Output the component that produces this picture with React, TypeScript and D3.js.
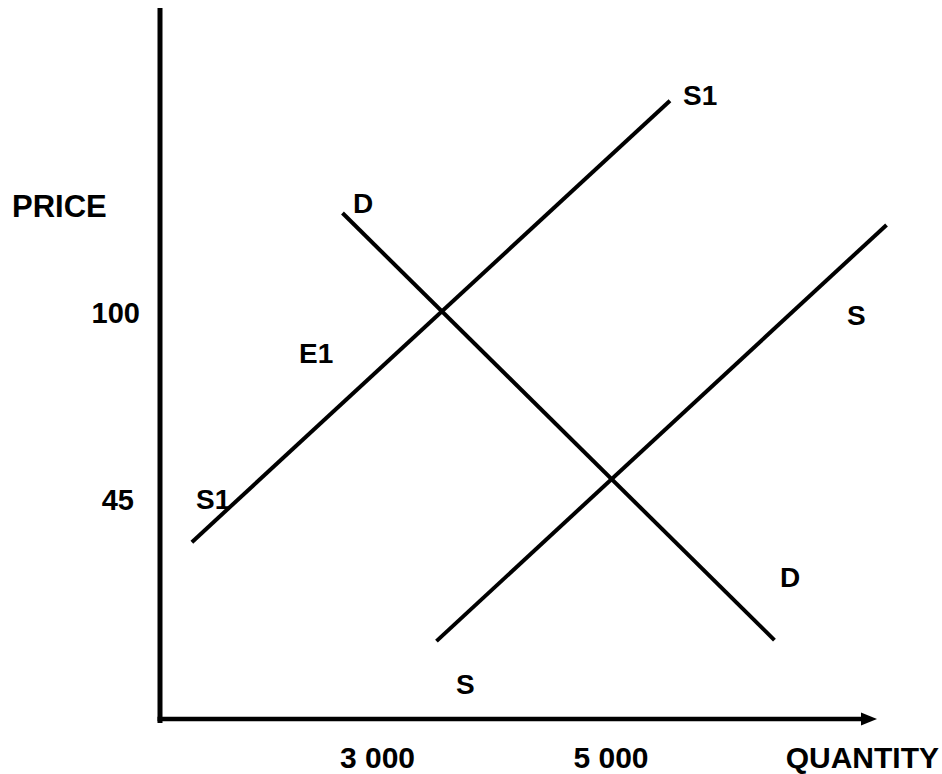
import React from "react";
import * as d3 from "d3";

// Curves in data units: [quantity, price]
const supplyS1: [number, number][] = [
  [1410, 32.6],
  [5505, 162.4],
];
const demandD: [number, number][] = [
  [2700, 129.4],
  [6400, 3.8],
];
const supplyS: [number, number][] = [
  [3505, 3.5],
  [7360, 125.9],
];

const xTicks = [3000, 5000];
const xTickLabels = ["3 000", "5 000"];
const yTicks = [100, 45];
const yTickLabels = ["100", "45"];

// Curve labels placed in data units
const curveLabels: { text: string; q: number; p: number }[] = [
  { text: "S1", q: 5617, p: 161.2 },
  { text: "D", q: 2790, p: 129.4 },
  { text: "S", q: 7021, p: 96.5 },
  { text: "E1", q: 2328, p: 85.3 },
  { text: "S1", q: 1445, p: 42.4 },
  { text: "D", q: 6448, p: 19.4 },
  { text: "S", q: 3672, p: -12.1 },
];

const W = 942;
const H = 774;
const FONT = "'Liberation Sans', Arial, Helvetica, sans-serif";

export default function App() {
  const x = d3.scaleLinear().domain([3000, 5000]).range([377.5, 611]);
  const y = d3.scaleLinear().domain([45, 100]).range([500, 313]);

  const line = d3
    .line<[number, number]>()
    .x((d) => x(d[0]))
    .y((d) => y(d[1]));

  const axisX = 160;
  const axisY = 719;
  const axisTop = 8;
  const arrowTip = 877;

  return (
    <svg
      width={W}
      height={H}
      style={{ position: "absolute", left: 0, top: 0, display: "block", background: "#fff" }}
    >
      <rect x={0} y={0} width={W} height={H} fill="#fff" />
      {/* axes */}
      <line x1={axisX} y1={axisTop} x2={axisX} y2={axisY + 4} stroke="#000" strokeWidth={5} />
      <line x1={axisX - 2.5} y1={axisY} x2={arrowTip - 14} y2={axisY} stroke="#000" strokeWidth={4.5} />
      <path
        d={`M${arrowTip - 16},${axisY - 6.5} L${arrowTip},${axisY} L${arrowTip - 16},${axisY + 6.5} Z`}
        fill="#000"
      />

      {/* curves */}
      {[supplyS1, demandD, supplyS].map((d, i) => (
        <path key={i} d={line(d) || ""} fill="none" stroke="#000" strokeWidth={4} strokeLinecap="butt" />
      ))}

      {/* axis titles */}
      <text x={12} y={217} fontFamily={FONT} fontWeight="bold" fontSize={31} fill="#000">
        PRICE
      </text>
      <text x={W - 3} y={768} textAnchor="end" fontFamily={FONT} fontWeight="bold" fontSize={30} fill="#000">
        QUANTITY
      </text>

      {/* y tick labels */}
      {yTicks.map((t, i) => (
        <text
          key={"y" + i}
          x={140 - (i === 1 ? 6 : 0)}
          y={y(t) + 10}
          textAnchor="end"
          fontFamily={FONT}
          fontWeight="bold"
          fontSize={29}
          fill="#000"
        >
          {yTickLabels[i]}
        </text>
      ))}

      {/* x tick labels */}
      {xTicks.map((t, i) => (
        <text
          key={"x" + i}
          x={x(t)}
          y={768}
          textAnchor="middle"
          fontFamily={FONT}
          fontWeight="bold"
          fontSize={30}
          fill="#000"
        >
          {xTickLabels[i]}
        </text>
      ))}

      {/* curve labels */}
      {curveLabels.map((l, i) => (
        <text
          key={"l" + i}
          x={x(l.q)}
          y={y(l.p)}
          fontFamily={FONT}
          fontWeight="bold"
          fontSize={28}
          fill="#000"
        >
          {l.text}
        </text>
      ))}
    </svg>
  );
}
